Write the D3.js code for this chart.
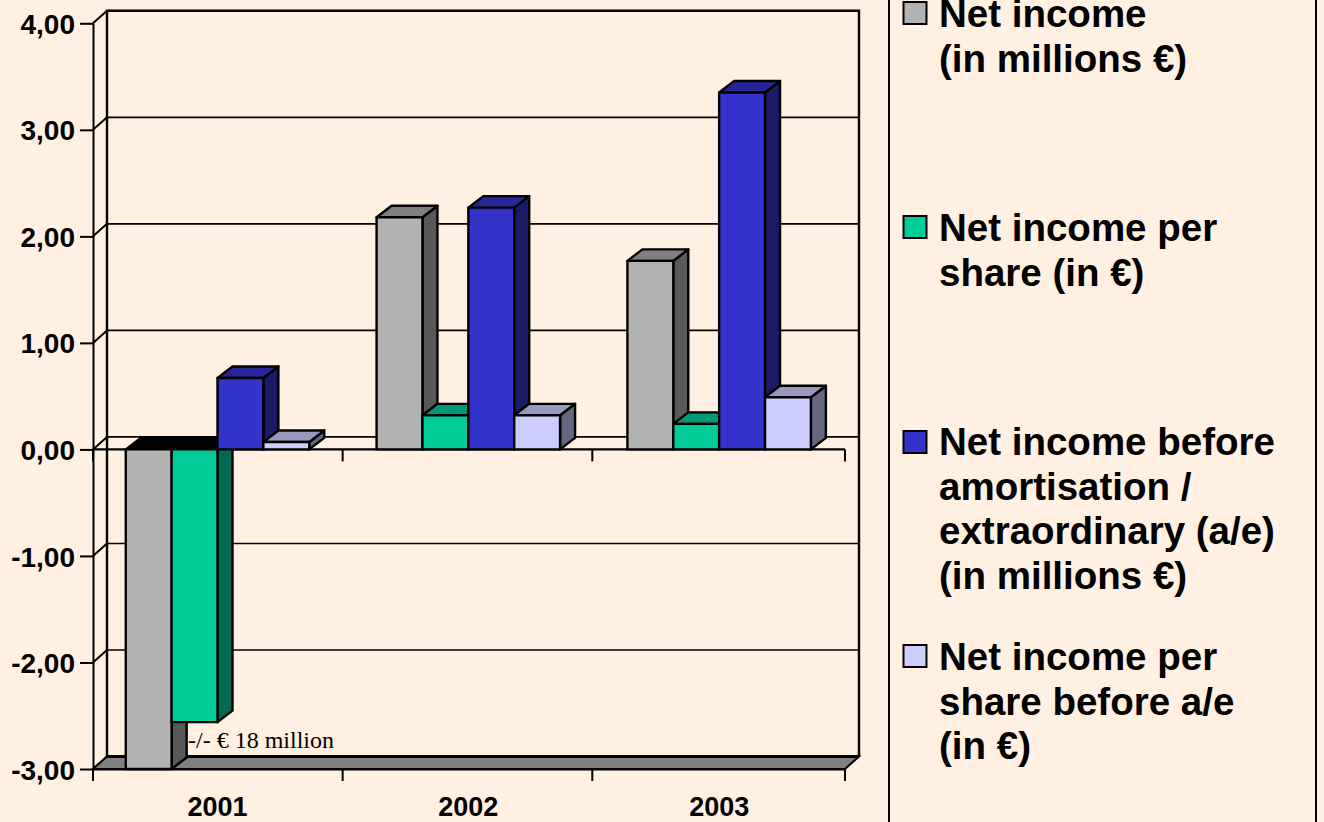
<!DOCTYPE html>
<html>
<head>
<meta charset="utf-8">
<script src="https://cdn.jsdelivr.net/npm/d3@7"></script>
<style>
  html, body { margin: 0; padding: 0; background: #fff0e1; overflow: hidden; }
  svg { display: block; }
  text { font-family: "Liberation Sans", Arial, sans-serif; fill: #000; }
</style>
</head>
<body>
<svg id="chart"></svg>
<script>
const width = 1324;
const height = 822;

const years = ["2001", "2002", "2003"];
const seriesNames = ["netIncome", "netIncomePerShare", "netIncomeBeforeAe", "netIncomePerShareBeforeAe"];
// 2001 net income is -18, the chart cuts it off at the axis minimum
const netIncome = [-18, 2.18, 1.77];
const netIncomePerShare = [-2.56, 0.32, 0.24];
const netIncomeBeforeAe = [0.67, 2.27, 3.35];
const netIncomePerShareBeforeAe = [0.07, 0.32, 0.49];
const seriesValues = [netIncome, netIncomePerShare, netIncomeBeforeAe, netIncomePerShareBeforeAe];

const yTicks = [-3, -2, -1, 0, 1, 2, 3, 4];

const legendLabels = [
  ["Net income", "(in millions €)"],
  ["Net income per", "share (in €)"],
  ["Net income before", "amortisation /", "extraordinary (a/e)", "(in millions €)"],
  ["Net income per", "share before a/e", "(in €)"]
];

const frontColors = ["#b2b2b2", "#00cc99", "#3333cc", "#ccccff"];
const sideColors = ["#595959", "#006b50", "#1a1a66", "#666680"];
const topColors = ["#808080", "#009973", "#262699", "#9999bf"];

const margin = {left: 93, right: 845, top: 23.3, bottom: 769};
const wallDepthX = 14;
const wallDepthY = -12.5;
const barDepthX = 15;
const barDepthY = -11.5;

const svg = d3.select("#chart")
              .attr("width", width)
              .attr("height", height);

const yScale = d3.scaleLinear()
                 .domain([-3, 4])
                 .range([margin.bottom, margin.top])
                 .clamp(true);

const xScale = d3.scaleBand()
                 .domain(years)
                 .range([margin.left, margin.right])
                 .paddingInner(0.2685)
                 .paddingOuter(0.1333)
                 .align(0.49);

const innerScale = d3.scaleBand()
                     .domain(seriesNames)
                     .range([0, xScale.bandwidth()]);

const line = d3.line();
const poly = (pts) => line(pts) + "Z";

// walls
const backLeft = margin.left + wallDepthX;
const backRight = margin.right + wallDepthX;
const backTop = yScale(4) + wallDepthY;
const backBottom = yScale(-3) + wallDepthY;

const walls = svg.append("g").attr("fill", "none").attr("stroke", "#000");

walls.selectAll(".side")
     .data(yTicks)
     .enter()
     .append("path")
     .attr("class", "side")
     .attr("stroke-width", 2)
     .attr("d", d => line([[margin.left, yScale(d)], [backLeft, yScale(d) + wallDepthY]]));

walls.selectAll(".grid")
     .data(yTicks.filter(d => d !== 4 && d !== -3))
     .enter()
     .append("path")
     .attr("class", "grid")
     .attr("stroke-width", 1.6)
     .attr("d", d => line([[backLeft, yScale(d) + wallDepthY], [backRight, yScale(d) + wallDepthY]]));

walls.append("path")
     .attr("stroke-width", 2.4)
     .attr("d", line([[backLeft, backBottom], [backLeft, backTop], [backRight, backTop], [backRight, backBottom]]));

// floor
svg.append("path")
   .attr("d", poly([[margin.left, yScale(-3)], [backLeft, backBottom], [backRight, backBottom], [margin.right, yScale(-3)]]))
   .attr("fill", "#808080")
   .attr("stroke", "#000")
   .attr("stroke-width", 2);
svg.append("path")
   .attr("d", line([[backLeft, backBottom], [backRight, backBottom]]))
   .attr("stroke", "#000")
   .attr("stroke-width", 3);

// zero plane front edge
svg.append("path")
   .attr("d", line([[margin.left, yScale(0)], [margin.right, yScale(0)]]))
   .attr("fill", "none")
   .attr("stroke", "#000")
   .attr("stroke-width", 2.4);

// bars, left to right so the nearer ones overlap correctly
const bars = svg.append("g").attr("stroke", "#000").attr("stroke-width", 2.4).attr("stroke-linejoin", "round");

years.forEach(function(year, yearIndex) {
  seriesNames.forEach(function(name, s) {
    const value = seriesValues[s][yearIndex];
    const x0 = xScale(year) + innerScale(name);
    const x1 = x0 + innerScale.bandwidth();
    const yTop = yScale(Math.max(value, 0));
    const yBottom = yScale(Math.min(value, 0));

    bars.append("path")
        .attr("d", poly([[x1, yTop], [x1 + barDepthX, yTop + barDepthY], [x1 + barDepthX, yBottom + barDepthY], [x1, yBottom]]))
        .attr("fill", sideColors[s]);
    bars.append("path")
        .attr("d", poly([[x0, yTop], [x0 + barDepthX, yTop + barDepthY], [x1 + barDepthX, yTop + barDepthY], [x1, yTop]]))
        .attr("fill", value < 0 ? "#000" : topColors[s]);
    bars.append("rect")
        .attr("x", x0)
        .attr("y", yTop)
        .attr("width", x1 - x0)
        .attr("height", yBottom - yTop)
        .attr("fill", frontColors[s]);
  });
});

// y axis
const commaFormat = d3.formatLocale({decimal: ",", thousands: ".", grouping: [3], currency: ["", "€"], minus: "-"}).format(".2f");

const yAxisCall = d3.axisLeft(yScale)
                    .tickValues(yTicks)
                    .tickSize(13)
                    .tickSizeOuter(0)
                    .tickPadding(5)
                    .tickFormat(commaFormat);

const yAxis = svg.append("g")
                 .attr("transform", "translate(" + margin.left + ",0)")
                 .call(yAxisCall);
yAxis.selectAll("line, path").attr("stroke", "#000").attr("stroke-width", 2);
yAxis.selectAll("text").style("font-size", "28px").style("font-weight", "bold").attr("dy", "0.36em");

// x axis, ticks sit on the group boundaries and the labels in the middle
const xAxisCall = d3.axisBottom(xScale)
                    .tickSize(0)
                    .tickSizeOuter(0)
                    .tickPadding(47);

const xAxis = svg.append("g")
                 .attr("transform", "translate(0," + margin.bottom + ")")
                 .call(xAxisCall);
xAxis.selectAll("path").attr("stroke", "#000").attr("stroke-width", 2);
xAxis.selectAll("text").style("font-size", "27px").style("font-weight", "bold").attr("dy", "0");

const tickStep = 249.65;
const boundaries = d3.range(years.length).map(i => margin.left + i * tickStep).concat(margin.right);

[yScale(-3), yScale(0)].forEach(function(base) {
  svg.append("g")
     .selectAll("line")
     .data(boundaries)
     .enter()
     .append("line")
     .attr("x1", d => d)
     .attr("x2", d => d)
     .attr("y1", base)
     .attr("y2", base + 12)
     .attr("stroke", "#000")
     .attr("stroke-width", 2);
});

// note next to the cut off bar
svg.append("text")
   .attr("x", 188)
   .attr("y", 748)
   .style("font-family", '"Liberation Serif", "Times New Roman", serif')
   .style("font-size", "24px")
   .text("-/- € 18 million");

// legend
svg.append("line")
   .attr("x1", 889).attr("x2", 889)
   .attr("y1", 0).attr("y2", height)
   .attr("stroke", "#000").attr("stroke-width", 2);
svg.append("line")
   .attr("x1", 1316).attr("x2", 1316)
   .attr("y1", 0).attr("y2", height)
   .attr("stroke", "#000").attr("stroke-width", 2);

const legendSwatchY = [2, 216, 431, 645];
const legendFirstBaseline = [27, 241, 455, 670];

const legend = svg.append("g")
                  .selectAll("g")
                  .data(legendLabels)
                  .enter()
                  .append("g");

legend.append("rect")
      .attr("x", 903.5)
      .attr("y", (d, i) => legendSwatchY[i])
      .attr("width", 23)
      .attr("height", 22)
      .attr("fill", (d, i) => frontColors[i])
      .attr("stroke", "#000")
      .attr("stroke-width", 2);

legend.each(function(lines, i) {
  d3.select(this)
    .selectAll("text")
    .data(lines)
    .enter()
    .append("text")
    .attr("x", 939)
    .attr("y", (d, j) => legendFirstBaseline[i] + j * 44.5)
    .style("font-size", "38.5px")
    .style("font-weight", "bold")
    .text(d => d);
});
</script>
</body>
</html>
